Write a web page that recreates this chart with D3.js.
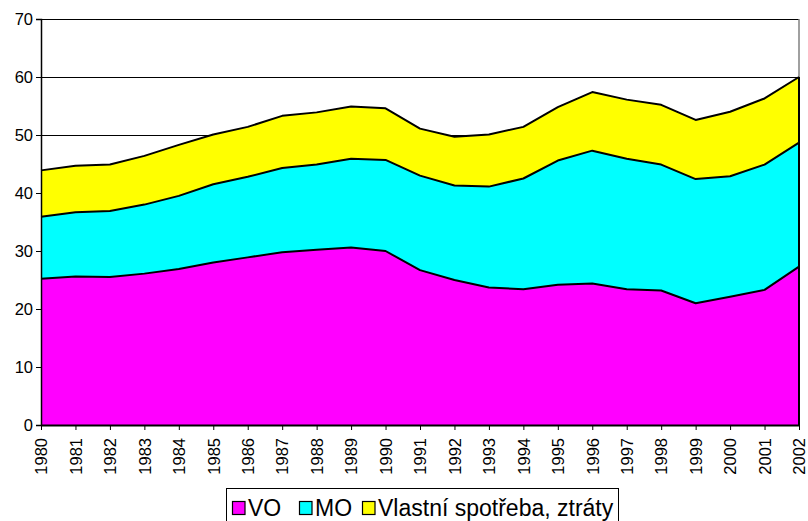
<!DOCTYPE html>
<html>
<head>
<meta charset="utf-8">
<script src="https://cdn.jsdelivr.net/npm/d3@7"></script>
<style>
  html, body { margin: 0; padding: 0; background: #fff; }
  svg { display: block; font-family: "Liberation Sans", Arial, sans-serif; }
</style>
</head>
<body>
<svg id="chart" width="808" height="521"></svg>
<script>
// Years on the category axis
const years = ["1980","1981","1982","1983","1984","1985","1986","1987","1988","1989","1990",
  "1991","1992","1993","1994","1995","1996","1997","1998","1999","2000","2001","2002"];

// Stacked series values
const vo = [25.2,25.6,25.5,26.1,26.9,28.0,28.9,29.8,30.2,30.6,30.0,26.7,25.0,23.7,23.4,24.2,24.4,23.4,23.2,21.0,22.1,23.3,27.3];
const mo = [10.7,11.1,11.4,11.9,12.6,13.5,13.9,14.5,14.7,15.3,15.7,16.3,16.3,17.4,19.1,21.4,22.9,22.5,21.7,21.4,20.8,21.6,21.4];
const vlastni = [8.0,8.0,8.0,8.4,8.8,8.6,8.6,9.0,9.0,9.0,8.9,8.1,8.4,9.0,8.9,9.2,10.1,10.2,10.3,10.2,11.1,11.4,11.3];

const seriesNames = ["VO", "MO", "Vlastní spotřeba, ztráty"];
const seriesColors = ["#ff00ff", "#00ffff", "#ffff00"];
const yTicks = [0,10,20,30,40,50,60,70];

const rows = years.map((yr, i) => ({ year: yr, VO: vo[i], MO: mo[i], "Vlastní spotřeba, ztráty": vlastni[i] }));

const svg = d3.select("#chart");
const plotLeft = 41, plotRight = 799, plotTop = 19, plotBottom = 425;

const x = d3.scalePoint().domain(years).range([plotLeft, plotRight]);
const y = d3.scaleLinear().domain([0, 70]).range([plotBottom, plotTop]);

// Horizontal gridlines
svg.append("g").selectAll("line").data(yTicks.slice(1)).join("line")
  .attr("x1", plotLeft).attr("x2", plotRight)
  .attr("y1", d => Math.round(y(d)) + 0.5).attr("y2", d => Math.round(y(d)) + 0.5)
  .attr("stroke", "#000").attr("stroke-width", 1);

// Right border of the plot area
svg.append("line").attr("x1", plotRight).attr("x2", plotRight).attr("y1", plotTop).attr("y2", plotBottom)
  .attr("stroke", "#808080").attr("stroke-width", 1.5);

const stack = d3.stack().keys(seriesNames);
const layers = stack(rows);

const area = d3.area()
  .x(d => x(d.data.year))
  .y0(d => y(d[0]))
  .y1(d => y(d[1]));

const line = d3.line()
  .x(d => x(d.data.year))
  .y(d => y(d[1]));

const g = svg.append("g");
g.selectAll("path.area").data(layers).join("path")
  .attr("class", "area")
  .attr("d", area)
  .attr("fill", (d, i) => seriesColors[i]);

g.selectAll("path.edge").data(layers).join("path")
  .attr("class", "edge")
  .attr("d", line)
  .attr("fill", "none")
  .attr("stroke", "#000")
  .attr("stroke-width", 2)
  .attr("stroke-linejoin", "round");

// Closing edge on the right side
svg.append("line").attr("x1", plotRight).attr("x2", plotRight)
  .attr("y1", y(vo[vo.length - 1] + mo[mo.length - 1] + vlastni[vlastni.length - 1])).attr("y2", plotBottom)
  .attr("stroke", "#000").attr("stroke-width", 2);

// Axes
const yAxis = d3.axisLeft(y).tickValues(yTicks).tickSize(5).tickPadding(3);
const yg = svg.append("g").attr("transform", `translate(${plotLeft},0)`).call(yAxis);
yg.select(".domain").attr("stroke", "#000").attr("stroke-width", 1.5);
yg.selectAll(".tick line").attr("stroke", "#000");
yg.selectAll(".tick text").attr("font-size", 16.5).attr("fill", "#000")
  .attr("font-family", "'Liberation Sans', Arial, sans-serif");

const xAxis = d3.axisBottom(x).tickSize(5).tickSizeOuter(0);
const xg = svg.append("g").attr("transform", `translate(0,${plotBottom})`).call(xAxis);
xg.select(".domain").attr("stroke", "#000").attr("stroke-width", 2);
xg.selectAll(".tick line").attr("stroke", "#000");
xg.selectAll(".tick text")
  .attr("font-size", 16.5).attr("fill", "#000")
  .attr("font-family", "'Liberation Sans', Arial, sans-serif")
  .attr("transform", "rotate(-90)")
  .attr("text-anchor", "end")
  .attr("x", -13)
  .attr("y", 0)
  .attr("dy", "0.35em");

// Legend
const legend = svg.append("g");
legend.append("rect").attr("x", 226.5).attr("y", 488.5).attr("width", 392).attr("height", 40)
  .attr("fill", "#fff").attr("stroke", "#000").attr("stroke-width", 1);
const legendX = [232, 299, 362];
const items = legend.selectAll("g.item").data(seriesNames).join("g").attr("class", "item")
  .attr("transform", (d, i) => `translate(${legendX[i]},0)`);
items.append("rect").attr("x", 0.5).attr("y", 501.5).attr("width", 12.5).attr("height", 13)
  .attr("fill", (d, i) => seriesColors[i]).attr("stroke", "#000").attr("stroke-width", 1.2);
items.append("text").attr("x", 16).attr("y", 516)
  .attr("font-size", 23).attr("fill", "#000")
  .text(d => d);
</script>
</body>
</html>
